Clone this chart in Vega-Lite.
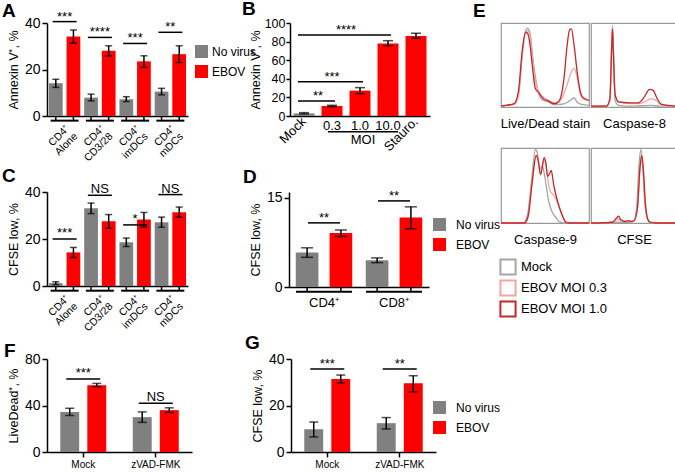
{
"$schema": "https://vega.github.io/schema/vega-lite/v6.json",
"padding": {"left": 2, "top": 0, "right": 0, "bottom": 0},
"background": "white",
"config": {
  "font": "Liberation Sans",
  "view": {"stroke": null},
  "axis": {"grid": false, "domainColor": "#000", "domainWidth": 1.5, "tickColor": "#000", "tickWidth": 1.5, "tickSize": 5, "labelColor": "#000", "titleColor": "#000", "labelFont": "Liberation Sans", "titleFont": "Liberation Sans", "labelFontSize": 14, "titleFontSize": 12.5, "titleFontWeight": "normal", "labelPadding": 2, "titlePadding": 4, "labelOverlap": false},
  "legend": {"labelFont": "Liberation Sans", "labelFontSize": 12, "labelColor": "#000", "padding": 0},
  "title": {"font": "Liberation Sans", "fontSize": 19, "fontWeight": "bold", "anchor": "start", "frame": "group", "color": "#000"},
  "text": {"font": "Liberation Sans", "fontSize": 13, "color": "#000"}
},
"datasets": {
  "A": [
    {"cond":"Alone","series":"No virus","v":14.1,"lo":12.3,"hi":15.8},
    {"cond":"Alone","series":"EBOV","v":34.2,"lo":31.4,"hi":37.0},
    {"cond":"CD3/28","series":"No virus","v":7.9,"lo":6.5,"hi":9.4},
    {"cond":"CD3/28","series":"EBOV","v":28.1,"lo":25.9,"hi":30.2},
    {"cond":"imDCs","series":"No virus","v":7.2,"lo":6.2,"hi":8.3},
    {"cond":"imDCs","series":"EBOV","v":23.5,"lo":20.9,"hi":25.9},
    {"cond":"mDCs","series":"No virus","v":10.5,"lo":9.1,"hi":11.9},
    {"cond":"mDCs","series":"EBOV","v":26.6,"lo":23.0,"hi":30.2}
  ],
  "Asig": [
    {"cond":"Alone","sy":40.6,"s":"***"},
    {"cond":"CD3/28","sy":33.8,"s":"****"},
    {"cond":"imDCs","sy":31.2,"s":"***"},
    {"cond":"mDCs","sy":36.0,"s":"**"}
  ],
  "B": [
    {"cat":"Mock","series":"No virus","v":2.8,"lo":2.2,"hi":3.6},
    {"cat":"0.3","series":"EBOV","v":10.8,"lo":10.1,"hi":11.5},
    {"cat":"1.0","series":"EBOV","v":27.3,"lo":24.0,"hi":30.5},
    {"cat":"10.0","series":"EBOV","v":78.0,"lo":75.5,"hi":81.0},
    {"cat":"Stauro.","series":"EBOV","v":86.0,"lo":83.5,"hi":89.0}
  ],
  "Bsig": [
    {"from":"Mock","to":"0.3","sy":16.2,"s":"**"},
    {"from":"Mock","to":"1.0","sy":36.7,"s":"***"},
    {"from":"Mock","to":"10.0","sy":87.0,"s":"****"}
  ],
  "Bmoi": [
    {"from":"0.3","to":"10.0","mid":"1.0","lab":"MOI"}
  ],
  "C": [
    {"cond":"Alone","series":"No virus","v":1.2,"lo":0.6,"hi":1.8},
    {"cond":"Alone","series":"EBOV","v":14.3,"lo":12.1,"hi":16.4},
    {"cond":"CD3/28","series":"No virus","v":33.1,"lo":30.8,"hi":35.3},
    {"cond":"CD3/28","series":"EBOV","v":27.6,"lo":24.6,"hi":30.4},
    {"cond":"imDCs","series":"No virus","v":18.6,"lo":16.8,"hi":20.4},
    {"cond":"imDCs","series":"EBOV","v":28.3,"lo":25.1,"hi":31.3},
    {"cond":"mDCs","series":"No virus","v":27.1,"lo":25.0,"hi":29.3},
    {"cond":"mDCs","series":"EBOV","v":31.4,"lo":29.3,"hi":33.6}
  ],
  "Csig": [
    {"cond":"Alone","sy":20.0,"s":"***"},
    {"cond":"CD3/28","sy":38.6,"s":"NS"},
    {"cond":"imDCs","sy":26.0,"s":"*"},
    {"cond":"mDCs","sy":38.9,"s":"NS"}
  ],
  "D": [
    {"cell":"CD4⁺","series":"No virus","v":5.8,"lo":5.0,"hi":6.6},
    {"cell":"CD4⁺","series":"EBOV","v":9.1,"lo":8.5,"hi":9.6},
    {"cell":"CD8⁺","series":"No virus","v":4.5,"lo":4.1,"hi":4.9},
    {"cell":"CD8⁺","series":"EBOV","v":11.7,"lo":9.8,"hi":13.5}
  ],
  "Dsig": [
    {"cell":"CD4⁺","sy":10.8,"s":"**"},
    {"cell":"CD8⁺","sy":14.5,"s":"**"}
  ],
  "F": [
    {"trt":"Mock","series":"No virus","v":34.5,"lo":31.4,"hi":37.6},
    {"trt":"Mock","series":"EBOV","v":57.5,"lo":56.2,"hi":59.0},
    {"trt":"zVAD-FMK","series":"No virus","v":30.0,"lo":25.5,"hi":34.5},
    {"trt":"zVAD-FMK","series":"EBOV","v":36.0,"lo":34.0,"hi":38.0}
  ],
  "Fsig": [
    {"trt":"Mock","sy":62.9,"s":"***"},
    {"trt":"zVAD-FMK","sy":42.0,"s":"NS"}
  ],
  "G": [
    {"trt":"Mock","series":"No virus","v":9.8,"lo":6.5,"hi":12.9},
    {"trt":"Mock","series":"EBOV","v":31.4,"lo":29.7,"hi":33.1},
    {"trt":"zVAD-FMK","series":"No virus","v":12.4,"lo":9.9,"hi":14.8},
    {"trt":"zVAD-FMK","series":"EBOV","v":29.6,"lo":25.9,"hi":32.8}
  ],
  "Gsig": [
    {"trt":"Mock","sy":35.7,"s":"***"},
    {"trt":"zVAD-FMK","sy":35.7,"s":"**"}
  ],
  "E1": [
    {"c":"Mock","x":0,"y":0.01},{"c":"Mock","x":6,"y":0.02},{"c":"Mock","x":15,"y":0.03},{"c":"Mock","x":20,"y":0.15},{"c":"Mock","x":24,"y":0.6},{"c":"Mock","x":27,"y":0.86},{"c":"Mock","x":30,"y":0.94},{"c":"Mock","x":33,"y":0.88},{"c":"Mock","x":36,"y":0.6},{"c":"Mock","x":40,"y":0.3},{"c":"Mock","x":44,"y":0.12},{"c":"Mock","x":48,"y":0.08},{"c":"Mock","x":54,"y":0.06},{"c":"Mock","x":60,"y":0.03},{"c":"Mock","x":66,"y":0.03},{"c":"Mock","x":72,"y":0.04},{"c":"Mock","x":76,"y":0.06},{"c":"Mock","x":80,"y":0.09},{"c":"Mock","x":83,"y":0.11},{"c":"Mock","x":87,"y":0.05},{"c":"Mock","x":92,"y":0.03},{"c":"Mock","x":100,"y":0.02},
    {"c":"EBOV MOI 0.3","x":0,"y":0.01},{"c":"EBOV MOI 0.3","x":6,"y":0.02},{"c":"EBOV MOI 0.3","x":15,"y":0.03},{"c":"EBOV MOI 0.3","x":20,"y":0.16},{"c":"EBOV MOI 0.3","x":24,"y":0.62},{"c":"EBOV MOI 0.3","x":27,"y":0.86},{"c":"EBOV MOI 0.3","x":30,"y":0.91},{"c":"EBOV MOI 0.3","x":33,"y":0.84},{"c":"EBOV MOI 0.3","x":36,"y":0.55},{"c":"EBOV MOI 0.3","x":40,"y":0.26},{"c":"EBOV MOI 0.3","x":44,"y":0.16},{"c":"EBOV MOI 0.3","x":48,"y":0.12},{"c":"EBOV MOI 0.3","x":54,"y":0.08},{"c":"EBOV MOI 0.3","x":60,"y":0.05},{"c":"EBOV MOI 0.3","x":66,"y":0.06},{"c":"EBOV MOI 0.3","x":70,"y":0.12},{"c":"EBOV MOI 0.3","x":75,"y":0.26},{"c":"EBOV MOI 0.3","x":80,"y":0.42},{"c":"EBOV MOI 0.3","x":83,"y":0.46},{"c":"EBOV MOI 0.3","x":86,"y":0.38},{"c":"EBOV MOI 0.3","x":90,"y":0.16},{"c":"EBOV MOI 0.3","x":94,"y":0.09},{"c":"EBOV MOI 0.3","x":100,"y":0.08},
    {"c":"EBOV MOI 1.0","x":0,"y":0.01},{"c":"EBOV MOI 1.0","x":6,"y":0.02},{"c":"EBOV MOI 1.0","x":15,"y":0.04},{"c":"EBOV MOI 1.0","x":20,"y":0.2},{"c":"EBOV MOI 1.0","x":24,"y":0.66},{"c":"EBOV MOI 1.0","x":28,"y":0.89},{"c":"EBOV MOI 1.0","x":30,"y":0.88},{"c":"EBOV MOI 1.0","x":33,"y":0.74},{"c":"EBOV MOI 1.0","x":36,"y":0.45},{"c":"EBOV MOI 1.0","x":39,"y":0.22},{"c":"EBOV MOI 1.0","x":43,"y":0.17},{"c":"EBOV MOI 1.0","x":48,"y":0.1},{"c":"EBOV MOI 1.0","x":54,"y":0.07},{"c":"EBOV MOI 1.0","x":60,"y":0.04},{"c":"EBOV MOI 1.0","x":64,"y":0.05},{"c":"EBOV MOI 1.0","x":68,"y":0.12},{"c":"EBOV MOI 1.0","x":72,"y":0.38},{"c":"EBOV MOI 1.0","x":75,"y":0.72},{"c":"EBOV MOI 1.0","x":78,"y":0.92},{"c":"EBOV MOI 1.0","x":80,"y":0.93},{"c":"EBOV MOI 1.0","x":83,"y":0.74},{"c":"EBOV MOI 1.0","x":87,"y":0.38},{"c":"EBOV MOI 1.0","x":91,"y":0.15},{"c":"EBOV MOI 1.0","x":95,"y":0.1},{"c":"EBOV MOI 1.0","x":100,"y":0.08}
  ],
  "E2": [
    {"c":"Mock","x":0,"y":0.01},{"c":"Mock","x":18,"y":0.01},{"c":"Mock","x":22,"y":0.08},{"c":"Mock","x":24,"y":0.7},{"c":"Mock","x":25,"y":0.97},{"c":"Mock","x":26,"y":0.7},{"c":"Mock","x":28,"y":0.08},{"c":"Mock","x":32,"y":0.02},{"c":"Mock","x":50,"y":0.01},{"c":"Mock","x":70,"y":0.02},{"c":"Mock","x":80,"y":0.01},{"c":"Mock","x":100,"y":0.01},
    {"c":"EBOV MOI 0.3","x":0,"y":0.01},{"c":"EBOV MOI 0.3","x":18,"y":0.01},{"c":"EBOV MOI 0.3","x":22,"y":0.1},{"c":"EBOV MOI 0.3","x":24,"y":0.7},{"c":"EBOV MOI 0.3","x":25,"y":0.95},{"c":"EBOV MOI 0.3","x":26,"y":0.7},{"c":"EBOV MOI 0.3","x":28,"y":0.15},{"c":"EBOV MOI 0.3","x":32,"y":0.06},{"c":"EBOV MOI 0.3","x":45,"y":0.04},{"c":"EBOV MOI 0.3","x":55,"y":0.04},{"c":"EBOV MOI 0.3","x":62,"y":0.06},{"c":"EBOV MOI 0.3","x":70,"y":0.1},{"c":"EBOV MOI 0.3","x":75,"y":0.08},{"c":"EBOV MOI 0.3","x":82,"y":0.03},{"c":"EBOV MOI 0.3","x":100,"y":0.01},
    {"c":"EBOV MOI 1.0","x":0,"y":0.01},{"c":"EBOV MOI 1.0","x":18,"y":0.01},{"c":"EBOV MOI 1.0","x":22,"y":0.1},{"c":"EBOV MOI 1.0","x":24,"y":0.7},{"c":"EBOV MOI 1.0","x":25,"y":0.93},{"c":"EBOV MOI 1.0","x":26,"y":0.65},{"c":"EBOV MOI 1.0","x":28,"y":0.15},{"c":"EBOV MOI 1.0","x":32,"y":0.06},{"c":"EBOV MOI 1.0","x":45,"y":0.05},{"c":"EBOV MOI 1.0","x":55,"y":0.05},{"c":"EBOV MOI 1.0","x":62,"y":0.12},{"c":"EBOV MOI 1.0","x":68,"y":0.21},{"c":"EBOV MOI 1.0","x":72,"y":0.2},{"c":"EBOV MOI 1.0","x":77,"y":0.1},{"c":"EBOV MOI 1.0","x":82,"y":0.03},{"c":"EBOV MOI 1.0","x":100,"y":0.01}
  ],
  "E3": [
    {"c":"Mock","x":0,"y":0},{"c":"Mock","x":25,"y":0},{"c":"Mock","x":30,"y":0.1},{"c":"Mock","x":35,"y":0.6},{"c":"Mock","x":39,"y":0.98},{"c":"Mock","x":41,"y":0.95},{"c":"Mock","x":44,"y":0.72},{"c":"Mock","x":47,"y":0.76},{"c":"Mock","x":50,"y":0.6},{"c":"Mock","x":54,"y":0.3},{"c":"Mock","x":58,"y":0.15},{"c":"Mock","x":62,"y":0.08},{"c":"Mock","x":66,"y":0.02},{"c":"Mock","x":72,"y":0},{"c":"Mock","x":100,"y":0},
    {"c":"EBOV MOI 0.3","x":0,"y":0},{"c":"EBOV MOI 0.3","x":27,"y":0},{"c":"EBOV MOI 0.3","x":31,"y":0.1},{"c":"EBOV MOI 0.3","x":35,"y":0.5},{"c":"EBOV MOI 0.3","x":40,"y":0.9},{"c":"EBOV MOI 0.3","x":42,"y":0.85},{"c":"EBOV MOI 0.3","x":45,"y":0.64},{"c":"EBOV MOI 0.3","x":49,"y":0.85},{"c":"EBOV MOI 0.3","x":51,"y":0.78},{"c":"EBOV MOI 0.3","x":53,"y":0.6},{"c":"EBOV MOI 0.3","x":56,"y":0.42},{"c":"EBOV MOI 0.3","x":60,"y":0.37},{"c":"EBOV MOI 0.3","x":64,"y":0.28},{"c":"EBOV MOI 0.3","x":69,"y":0.12},{"c":"EBOV MOI 0.3","x":73,"y":0.02},{"c":"EBOV MOI 0.3","x":76,"y":0},{"c":"EBOV MOI 0.3","x":100,"y":0},
    {"c":"EBOV MOI 1.0","x":0,"y":0},{"c":"EBOV MOI 1.0","x":27,"y":0},{"c":"EBOV MOI 1.0","x":31,"y":0.1},{"c":"EBOV MOI 1.0","x":35,"y":0.5},{"c":"EBOV MOI 1.0","x":40,"y":0.9},{"c":"EBOV MOI 1.0","x":42,"y":0.85},{"c":"EBOV MOI 1.0","x":45,"y":0.65},{"c":"EBOV MOI 1.0","x":49,"y":0.87},{"c":"EBOV MOI 1.0","x":51,"y":0.8},{"c":"EBOV MOI 1.0","x":53,"y":0.62},{"c":"EBOV MOI 1.0","x":56,"y":0.68},{"c":"EBOV MOI 1.0","x":57,"y":0.7},{"c":"EBOV MOI 1.0","x":60,"y":0.5},{"c":"EBOV MOI 1.0","x":64,"y":0.3},{"c":"EBOV MOI 1.0","x":69,"y":0.12},{"c":"EBOV MOI 1.0","x":73,"y":0.02},{"c":"EBOV MOI 1.0","x":76,"y":0},{"c":"EBOV MOI 1.0","x":100,"y":0}
  ],
  "E4": [
    {"c":"Mock","x":0,"y":0},{"c":"Mock","x":10,"y":0},{"c":"Mock","x":30,"y":0.01},{"c":"Mock","x":45,"y":0.01},{"c":"Mock","x":50,"y":0.03},{"c":"Mock","x":53,"y":0.2},{"c":"Mock","x":56,"y":0.8},{"c":"Mock","x":58,"y":0.98},{"c":"Mock","x":60,"y":0.8},{"c":"Mock","x":62,"y":0.35},{"c":"Mock","x":65,"y":0.08},{"c":"Mock","x":68,"y":0.01},{"c":"Mock","x":75,"y":0},{"c":"Mock","x":100,"y":0},
    {"c":"EBOV MOI 0.3","x":0,"y":0},{"c":"EBOV MOI 0.3","x":10,"y":0},{"c":"EBOV MOI 0.3","x":25,"y":0.01},{"c":"EBOV MOI 0.3","x":30,"y":0.04},{"c":"EBOV MOI 0.3","x":32,"y":0.05},{"c":"EBOV MOI 0.3","x":35,"y":0.03},{"c":"EBOV MOI 0.3","x":44,"y":0.02},{"c":"EBOV MOI 0.3","x":50,"y":0.03},{"c":"EBOV MOI 0.3","x":54,"y":0.2},{"c":"EBOV MOI 0.3","x":57,"y":0.7},{"c":"EBOV MOI 0.3","x":59,"y":0.85},{"c":"EBOV MOI 0.3","x":61,"y":0.65},{"c":"EBOV MOI 0.3","x":63,"y":0.28},{"c":"EBOV MOI 0.3","x":66,"y":0.05},{"c":"EBOV MOI 0.3","x":69,"y":0.01},{"c":"EBOV MOI 0.3","x":100,"y":0},
    {"c":"EBOV MOI 1.0","x":0,"y":0},{"c":"EBOV MOI 1.0","x":10,"y":0},{"c":"EBOV MOI 1.0","x":25,"y":0.01},{"c":"EBOV MOI 1.0","x":30,"y":0.07},{"c":"EBOV MOI 1.0","x":32,"y":0.09},{"c":"EBOV MOI 1.0","x":35,"y":0.04},{"c":"EBOV MOI 1.0","x":40,"y":0.02},{"c":"EBOV MOI 1.0","x":44,"y":0.03},{"c":"EBOV MOI 1.0","x":47,"y":0.02},{"c":"EBOV MOI 1.0","x":50,"y":0.03},{"c":"EBOV MOI 1.0","x":54,"y":0.2},{"c":"EBOV MOI 1.0","x":57,"y":0.75},{"c":"EBOV MOI 1.0","x":59,"y":0.9},{"c":"EBOV MOI 1.0","x":61,"y":0.7},{"c":"EBOV MOI 1.0","x":63,"y":0.3},{"c":"EBOV MOI 1.0","x":66,"y":0.05},{"c":"EBOV MOI 1.0","x":69,"y":0.01},{"c":"EBOV MOI 1.0","x":75,"y":0},{"c":"EBOV MOI 1.0","x":100,"y":0}
  ]
},
"resolve": {"scale": {"color": "independent", "xOffset": "independent"}, "legend": {"color": "independent"}},
"spacing": -29,
"hconcat": [
 {
  "resolve": {"scale": {"color": "independent", "xOffset": "independent"}, "legend": {"color": "independent"}},
  "spacing": 0,
  "vconcat": [
  {
  "resolve": {"scale": {"color": "independent", "xOffset": "independent"}, "legend": {"color": "independent"}},
  "spacing": 2,
  "vconcat": [
   {
    "resolve": {"scale": {"color": "independent", "xOffset": "independent"}, "legend": {"color": "independent"}},
    "spacing": -15,
    "hconcat": [
     {
      "width": 141, "height": 93,
      "title": {"text": "A", "dx": -45, "offset": -10},
      "layer": [
       {"data": {"name": "A"}, "mark": {"type": "bar"}, "encoding": {
         "x": {"field": "cond", "type": "nominal", "scale": {"domain": ["Alone","CD3/28","imDCs","mDCs"], "paddingInner": 0, "paddingOuter": 0}, "axis": {"title": null, "ticks": false, "labelAngle": 315, "labelAlign": "right", "labelBaseline": "top", "labelPadding": 7, "labelFontSize": 10.5, "labelLineHeight": 11, "labelExpr": "['CD4⁺', datum.label]", "encoding": {"labels": {"angle": {"value": -45}}}}},
         "xOffset": {"field": "series", "type": "nominal", "scale": {"domain": ["No virus","EBOV"], "paddingInner": 0.22, "paddingOuter": 0.11}},
         "y": {"field": "v", "type": "quantitative", "scale": {"domain": [0, 40]}, "axis": {"title": "Annexin V⁺, %", "values": [0,10,20,30,40]}},
         "color": {"field": "series", "type": "nominal", "scale": {"domain": ["No virus","EBOV"], "range": ["#808080","#ff0000"]}, "legend": {"title": null, "orient": "none", "legendX": 148, "legendY": 22, "symbolType": "square", "symbolSize": 169, "symbolStrokeWidth": 0, "rowPadding": 7, "labelOffset": 4, "labelFontSize": 12}}
       }},
       {"data": {"name": "A"}, "mark": {"type": "rule", "color": "#000", "strokeWidth": 1.5}, "encoding": {
         "x": {"field": "cond", "type": "nominal"}, "xOffset": {"field": "series", "type": "nominal"},
         "y": {"field": "lo", "type": "quantitative"}, "y2": {"field": "hi"}}},
       {"data": {"name": "A"}, "mark": {"type": "tick", "color": "#000", "thickness": 1.5, "size": 7}, "encoding": {
         "x": {"field": "cond", "type": "nominal"}, "xOffset": {"field": "series", "type": "nominal"},
         "y": {"field": "hi", "type": "quantitative"}}},
       {"data": {"name": "A"}, "mark": {"type": "tick", "color": "#000", "thickness": 1.5, "size": 7}, "encoding": {
         "x": {"field": "cond", "type": "nominal"}, "xOffset": {"field": "series", "type": "nominal"},
         "y": {"field": "lo", "type": "quantitative"}}},
       {"data": {"name": "A"}, "mark": {"type": "rule", "color": "#000", "strokeWidth": 1.5}, "encoding": {
         "x": {"field": "cond", "type": "nominal"}, "xOffset": {"field": "series", "type": "nominal"},
         "y": {"datum": 0}, "y2": {"datum": -2}}},
       {"data": {"name": "Asig"}, "mark": {"type": "rule", "color": "#000", "strokeWidth": 2, "xOffset": -14, "x2Offset": 14}, "encoding": {
         "x": {"field": "cond", "type": "nominal"}, "x2": {"field": "cond"}, "y": {"datum": -2}}},
       {"data": {"name": "Asig"}, "mark": {"type": "rule", "color": "#000", "strokeWidth": 1.5, "xOffset": -12, "x2Offset": 12}, "encoding": {
         "x": {"field": "cond", "type": "nominal"}, "x2": {"field": "cond"}, "y": {"field": "sy", "type": "quantitative"}}},
       {"data": {"name": "Asig"}, "mark": {"type": "text", "baseline": "alphabetic", "dy": -1, "fontSize": 13}, "encoding": {
         "x": {"field": "cond", "type": "nominal"}, "y": {"field": "sy", "type": "quantitative"}, "text": {"field": "s"}}}
      ]
     },
     {
      "width": 140, "height": 93,
      "title": {"text": "B", "dx": -48, "offset": -2},
      "layer": [
       {"data": {"name": "B"}, "mark": {"type": "bar"}, "encoding": {
         "x": {"field": "cat", "type": "nominal", "scale": {"domain": ["Mock","0.3","1.0","10.0","Stauro."], "paddingInner": 0.25, "paddingOuter": 0.125}, "axis": {"title": null, "ticks": false, "labelPadding": 3, "labelFontSize": 13, "labelAngle": 0,
           "labelAlign": {"condition": {"test": "datum.value === 'Mock' || datum.value === 'Stauro.'", "value": "right"}, "value": "center"},
           "labelBaseline": {"condition": {"test": "datum.value === 'Mock' || datum.value === 'Stauro.'", "value": "middle"}, "value": "top"},
           "encoding": {"labels": {"angle": {"condition": {"test": "datum.value === 'Mock' || datum.value === 'Stauro.'", "value": -45}, "value": 0}}}}},
         "y": {"field": "v", "type": "quantitative", "scale": {"domain": [0, 100]}, "axis": {"title": "Annexin V⁺, %", "tickCount": 5, "labelOverlap": false, "labelFontSize": 12.5, "tickSize": 4, "labelPadding": 1, "titlePadding": 2}},
         "color": {"field": "series", "type": "nominal", "scale": {"domain": ["No virus","EBOV"], "range": ["#808080","#ff0000"]}, "legend": null}
       }},
       {"data": {"name": "B"}, "mark": {"type": "rule", "color": "#000", "strokeWidth": 1.5}, "encoding": {
         "x": {"field": "cat", "type": "nominal"}, "y": {"field": "lo", "type": "quantitative"}, "y2": {"field": "hi"}}},
       {"data": {"name": "B"}, "mark": {"type": "tick", "color": "#000", "thickness": 1.5, "size": 10}, "encoding": {
         "x": {"field": "cat", "type": "nominal"}, "y": {"field": "hi", "type": "quantitative"}}},
       {"data": {"name": "B"}, "mark": {"type": "tick", "color": "#000", "thickness": 1.5, "size": 10}, "encoding": {
         "x": {"field": "cat", "type": "nominal"}, "y": {"field": "lo", "type": "quantitative"}}},
       {"data": {"name": "Bsig"}, "mark": {"type": "rule", "color": "#000", "strokeWidth": 1.5, "xOffset": -6, "x2Offset": 3}, "encoding": {
         "x": {"field": "from", "type": "nominal"}, "x2": {"field": "to"}, "y": {"field": "sy", "type": "quantitative"}}},
       {"data": {"name": "Bsig"}, "transform": [{"filter": "datum.s === '**'"}], "mark": {"type": "text", "baseline": "alphabetic", "dy": -1, "xOffset": 14}, "encoding": {
         "x": {"field": "from", "type": "nominal"}, "y": {"field": "sy", "type": "quantitative"}, "text": {"field": "s"}}},
       {"data": {"name": "Bsig"}, "transform": [{"filter": "datum.s === '***'"}], "mark": {"type": "text", "baseline": "alphabetic", "dy": -1, "xOffset": 28}, "encoding": {
         "x": {"field": "from", "type": "nominal"}, "y": {"field": "sy", "type": "quantitative"}, "text": {"field": "s"}}},
       {"data": {"name": "Bsig"}, "transform": [{"filter": "datum.s === '****'"}], "mark": {"type": "text", "baseline": "alphabetic", "dy": -1, "xOffset": 42}, "encoding": {
         "x": {"field": "from", "type": "nominal"}, "y": {"field": "sy", "type": "quantitative"}, "text": {"field": "s"}}},
       {"data": {"name": "Bmoi"}, "mark": {"type": "rule", "color": "#000", "strokeWidth": 1.5, "xOffset": -4, "x2Offset": 10}, "encoding": {
         "x": {"field": "from", "type": "nominal"}, "x2": {"field": "to"}, "y": {"datum": -17}}},
       {"data": {"name": "Bmoi"}, "mark": {"type": "text", "baseline": "top", "fontSize": 13, "dx": 3}, "encoding": {
         "x": {"field": "mid", "type": "nominal"}, "y": {"datum": -19}, "text": {"field": "lab"}}}
      ]
     }
    ]
   },
   {
    "resolve": {"scale": {"color": "independent", "xOffset": "independent"}, "legend": {"color": "independent"}},
    "spacing": 55,
    "hconcat": [
     {
      "width": 141, "height": 94,
      "title": {"text": "C", "dx": -45, "offset": -3},
      "layer": [
       {"data": {"name": "C"}, "mark": {"type": "bar"}, "encoding": {
         "x": {"field": "cond", "type": "nominal", "scale": {"domain": ["Alone","CD3/28","imDCs","mDCs"], "paddingInner": 0, "paddingOuter": 0}, "axis": {"title": null, "ticks": false, "labelAngle": 315, "labelAlign": "right", "labelBaseline": "top", "labelPadding": 7, "labelFontSize": 10.5, "labelLineHeight": 11, "labelExpr": "['CD4⁺', datum.label]", "encoding": {"labels": {"angle": {"value": -45}}}}},
         "xOffset": {"field": "series", "type": "nominal", "scale": {"domain": ["No virus","EBOV"], "paddingInner": 0.22, "paddingOuter": 0.11}},
         "y": {"field": "v", "type": "quantitative", "scale": {"domain": [0, 40]}, "axis": {"title": "CFSE low, %", "values": [0,10,20,30,40]}},
         "color": {"field": "series", "type": "nominal", "scale": {"domain": ["No virus","EBOV"], "range": ["#808080","#ff0000"]}, "legend": null}
       }},
       {"data": {"name": "C"}, "mark": {"type": "rule", "color": "#000", "strokeWidth": 1.5}, "encoding": {
         "x": {"field": "cond", "type": "nominal"}, "xOffset": {"field": "series", "type": "nominal"},
         "y": {"field": "lo", "type": "quantitative"}, "y2": {"field": "hi"}}},
       {"data": {"name": "C"}, "mark": {"type": "tick", "color": "#000", "thickness": 1.5, "size": 7}, "encoding": {
         "x": {"field": "cond", "type": "nominal"}, "xOffset": {"field": "series", "type": "nominal"},
         "y": {"field": "hi", "type": "quantitative"}}},
       {"data": {"name": "C"}, "mark": {"type": "tick", "color": "#000", "thickness": 1.5, "size": 7}, "encoding": {
         "x": {"field": "cond", "type": "nominal"}, "xOffset": {"field": "series", "type": "nominal"},
         "y": {"field": "lo", "type": "quantitative"}}},
       {"data": {"name": "C"}, "mark": {"type": "rule", "color": "#000", "strokeWidth": 1.5}, "encoding": {
         "x": {"field": "cond", "type": "nominal"}, "xOffset": {"field": "series", "type": "nominal"},
         "y": {"datum": 0}, "y2": {"datum": -2}}},
       {"data": {"name": "Csig"}, "mark": {"type": "rule", "color": "#000", "strokeWidth": 2, "xOffset": -14, "x2Offset": 14}, "encoding": {
         "x": {"field": "cond", "type": "nominal"}, "x2": {"field": "cond"}, "y": {"datum": -2}}},
       {"data": {"name": "Csig"}, "mark": {"type": "rule", "color": "#000", "strokeWidth": 1.5, "xOffset": -12, "x2Offset": 12}, "encoding": {
         "x": {"field": "cond", "type": "nominal"}, "x2": {"field": "cond"}, "y": {"field": "sy", "type": "quantitative"}}},
       {"data": {"name": "Csig"}, "mark": {"type": "text", "baseline": "alphabetic", "dy": -2, "fontSize": 13}, "encoding": {
         "x": {"field": "cond", "type": "nominal"}, "y": {"field": "sy", "type": "quantitative"}, "text": {"field": "s"}}}
      ]
     },
     {
      "width": 140, "height": 95,
      "title": {"text": "D", "dx": -46, "offset": 3},
      "layer": [
       {"data": {"name": "D"}, "mark": {"type": "bar"}, "encoding": {
         "x": {"field": "cell", "type": "nominal", "scale": {"domain": ["CD4⁺","CD8⁺"], "paddingInner": 0, "paddingOuter": 0}, "axis": {"title": null, "ticks": false, "labelAngle": 0, "labelPadding": 9, "labelFontSize": 13}},
         "xOffset": {"field": "series", "type": "nominal", "scale": {"domain": ["No virus","EBOV"], "paddingInner": 0.33, "paddingOuter": 0.2}},
         "y": {"field": "v", "type": "quantitative", "scale": {"domain": [0, 15]}, "axis": {"title": "CFSE low, %", "values": [0,5,10,15]}},
         "color": {"field": "series", "type": "nominal", "scale": {"domain": ["No virus","EBOV"], "range": ["#808080","#ff0000"]}, "legend": {"title": null, "orient": "none", "legendX": 144, "legendY": 26, "symbolType": "square", "symbolSize": 169, "symbolStrokeWidth": 0, "rowPadding": 7, "labelOffset": 10, "labelFontSize": 12}}
       }},
       {"data": {"name": "D"}, "mark": {"type": "rule", "color": "#000", "strokeWidth": 1.5}, "encoding": {
         "x": {"field": "cell", "type": "nominal"}, "xOffset": {"field": "series", "type": "nominal"},
         "y": {"field": "lo", "type": "quantitative"}, "y2": {"field": "hi"}}},
       {"data": {"name": "D"}, "mark": {"type": "tick", "color": "#000", "thickness": 1.5, "size": 12}, "encoding": {
         "x": {"field": "cell", "type": "nominal"}, "xOffset": {"field": "series", "type": "nominal"},
         "y": {"field": "hi", "type": "quantitative"}}},
       {"data": {"name": "D"}, "mark": {"type": "tick", "color": "#000", "thickness": 1.5, "size": 12}, "encoding": {
         "x": {"field": "cell", "type": "nominal"}, "xOffset": {"field": "series", "type": "nominal"},
         "y": {"field": "lo", "type": "quantitative"}}},
       {"data": {"name": "D"}, "mark": {"type": "rule", "color": "#000", "strokeWidth": 1.5}, "encoding": {
         "x": {"field": "cell", "type": "nominal"}, "xOffset": {"field": "series", "type": "nominal"},
         "y": {"datum": 0}, "y2": {"datum": -0.8}}},
       {"data": {"name": "Dsig"}, "mark": {"type": "rule", "color": "#000", "strokeWidth": 2, "xOffset": -28, "x2Offset": 28}, "encoding": {
         "x": {"field": "cell", "type": "nominal"}, "x2": {"field": "cell"}, "y": {"datum": -0.8}}},
       {"data": {"name": "Dsig"}, "mark": {"type": "rule", "color": "#000", "strokeWidth": 1.5, "xOffset": -16, "x2Offset": 16}, "encoding": {
         "x": {"field": "cell", "type": "nominal"}, "x2": {"field": "cell"}, "y": {"field": "sy", "type": "quantitative"}}},
       {"data": {"name": "Dsig"}, "mark": {"type": "text", "baseline": "alphabetic", "dy": -1, "fontSize": 13}, "encoding": {
         "x": {"field": "cell", "type": "nominal"}, "y": {"field": "sy", "type": "quantitative"}, "text": {"field": "s"}}}
      ]
     }
    ]
   }
  ]
  },
   {
    "resolve": {"scale": {"color": "independent", "xOffset": "independent"}, "legend": {"color": "independent"}},
    "spacing": 53,
    "hconcat": [
     {
      "width": 145, "height": 93,
      "title": {"text": "F", "dx": -43, "offset": -9},
      "layer": [
       {"data": {"name": "F"}, "mark": {"type": "bar"}, "encoding": {
         "x": {"field": "trt", "type": "nominal", "scale": {"domain": ["Mock","zVAD-FMK"], "paddingInner": 0, "paddingOuter": 0}, "axis": {"title": null, "ticks": true, "labelAngle": 0, "labelPadding": 2, "labelFontSize": 10}},
         "xOffset": {"field": "series", "type": "nominal", "scale": {"domain": ["No virus","EBOV"], "paddingInner": 0.3, "paddingOuter": 0.49}},
         "y": {"field": "v", "type": "quantitative", "scale": {"domain": [0, 80]}, "axis": {"title": "LiveDead⁺, %", "values": [0,20,40,60,80]}},
         "color": {"field": "series", "type": "nominal", "scale": {"domain": ["No virus","EBOV"], "range": ["#808080","#ff0000"]}, "legend": null}
       }},
       {"data": {"name": "F"}, "mark": {"type": "rule", "color": "#000", "strokeWidth": 1.5}, "encoding": {
         "x": {"field": "trt", "type": "nominal"}, "xOffset": {"field": "series", "type": "nominal"},
         "y": {"field": "lo", "type": "quantitative"}, "y2": {"field": "hi"}}},
       {"data": {"name": "F"}, "mark": {"type": "tick", "color": "#000", "thickness": 1.5, "size": 9}, "encoding": {
         "x": {"field": "trt", "type": "nominal"}, "xOffset": {"field": "series", "type": "nominal"},
         "y": {"field": "hi", "type": "quantitative"}}},
       {"data": {"name": "F"}, "mark": {"type": "tick", "color": "#000", "thickness": 1.5, "size": 9}, "encoding": {
         "x": {"field": "trt", "type": "nominal"}, "xOffset": {"field": "series", "type": "nominal"},
         "y": {"field": "lo", "type": "quantitative"}}},
       {"data": {"name": "Fsig"}, "mark": {"type": "rule", "color": "#000", "strokeWidth": 1.5, "xOffset": -17, "x2Offset": 17}, "encoding": {
         "x": {"field": "trt", "type": "nominal"}, "x2": {"field": "trt"}, "y": {"field": "sy", "type": "quantitative"}}},
       {"data": {"name": "Fsig"}, "mark": {"type": "text", "baseline": "alphabetic", "dy": -2, "fontSize": 13}, "encoding": {
         "x": {"field": "trt", "type": "nominal"}, "y": {"field": "sy", "type": "quantitative"}, "text": {"field": "s"}}}
      ]
     },
     {
      "width": 145, "height": 93,
      "title": {"text": "G", "dx": -46, "offset": -1},
      "layer": [
       {"data": {"name": "G"}, "mark": {"type": "bar"}, "encoding": {
         "x": {"field": "trt", "type": "nominal", "scale": {"domain": ["Mock","zVAD-FMK"], "paddingInner": 0, "paddingOuter": 0}, "axis": {"title": null, "ticks": true, "labelAngle": 0, "labelPadding": 2, "labelFontSize": 10}},
         "xOffset": {"field": "series", "type": "nominal", "scale": {"domain": ["No virus","EBOV"], "paddingInner": 0.3, "paddingOuter": 0.49}},
         "y": {"field": "v", "type": "quantitative", "scale": {"domain": [0, 40]}, "axis": {"title": "CFSE low, %", "values": [0,10,20,30,40]}},
         "color": {"field": "series", "type": "nominal", "scale": {"domain": ["No virus","EBOV"], "range": ["#808080","#ff0000"]}, "legend": {"title": null, "orient": "none", "legendX": 142, "legendY": 42, "symbolType": "square", "symbolSize": 169, "symbolStrokeWidth": 0, "rowPadding": 7, "labelOffset": 10, "labelFontSize": 12}}
       }},
       {"data": {"name": "G"}, "mark": {"type": "rule", "color": "#000", "strokeWidth": 1.5}, "encoding": {
         "x": {"field": "trt", "type": "nominal"}, "xOffset": {"field": "series", "type": "nominal"},
         "y": {"field": "lo", "type": "quantitative"}, "y2": {"field": "hi"}}},
       {"data": {"name": "G"}, "mark": {"type": "tick", "color": "#000", "thickness": 1.5, "size": 9}, "encoding": {
         "x": {"field": "trt", "type": "nominal"}, "xOffset": {"field": "series", "type": "nominal"},
         "y": {"field": "hi", "type": "quantitative"}}},
       {"data": {"name": "G"}, "mark": {"type": "tick", "color": "#000", "thickness": 1.5, "size": 9}, "encoding": {
         "x": {"field": "trt", "type": "nominal"}, "xOffset": {"field": "series", "type": "nominal"},
         "y": {"field": "lo", "type": "quantitative"}}},
       {"data": {"name": "Gsig"}, "mark": {"type": "rule", "color": "#000", "strokeWidth": 1.5, "xOffset": -17, "x2Offset": 17}, "encoding": {
         "x": {"field": "trt", "type": "nominal"}, "x2": {"field": "trt"}, "y": {"field": "sy", "type": "quantitative"}}},
       {"data": {"name": "Gsig"}, "mark": {"type": "text", "baseline": "alphabetic", "dy": -1, "fontSize": 13}, "encoding": {
         "x": {"field": "trt", "type": "nominal"}, "y": {"field": "sy", "type": "quantitative"}, "text": {"field": "s"}}}
      ]
     }
    ]
   }
  ]
 },
 {
  "resolve": {"scale": {"color": "independent"}, "legend": {"color": "independent"}},
  "spacing": 15,
  "vconcat": [
   {
    "resolve": {"scale": {"color": "independent"}, "legend": {"color": "independent"}},
    "bounds": "flush",
    "spacing": 2,
    "hconcat": [
     {
      "width": 88, "height": 84,
      "view": {"stroke": "#999999", "strokeWidth": 1.2},
      "title": {"text": "E", "dx": -28, "offset": 2},
      "layer": [
       {"data": {"name": "E1"}, "mark": {"type": "line", "interpolate": "monotone", "strokeWidth": 1.3}, "encoding": {
         "x": {"field": "x", "type": "quantitative", "scale": {"domain": [0, 100]}, "axis": {"title": "Live/Dead stain", "domain": false, "ticks": false, "labels": false, "titlePadding": 10, "titleFontSize": 13}},
         "y": {"field": "y", "type": "quantitative", "scale": {"domain": [0, 1]}, "axis": null},
         "color": {"field": "c", "type": "nominal", "scale": {"domain": ["Mock","EBOV MOI 0.3","EBOV MOI 1.0"], "range": ["#a6a6a6","#f5a3a3","#c62828"]}, "legend": null}}},
       {"mark": {"type": "rule", "color": "#000", "strokeWidth": 1.5}, "encoding": {"x": {"datum": 0}, "x2": {"datum": 100}, "y": {"datum": 0}}},
       {"mark": {"type": "rule", "color": "#000", "strokeWidth": 1.2}, "encoding": {"x": {"datum": 8}, "x2": {"datum": 95}, "y": {"datum": -0.085}}},
       {"mark": {"type": "point", "shape": "triangle-right", "filled": true, "color": "#000", "opacity": 1, "size": 45}, "encoding": {"x": {"datum": 96}, "y": {"datum": -0.085}}}
      ]
     },
     {
      "width": 86, "height": 84,
      "view": {"stroke": "#999999", "strokeWidth": 1.2},
      "layer": [
       {"data": {"name": "E2"}, "mark": {"type": "line", "interpolate": "monotone", "strokeWidth": 1.3}, "encoding": {
         "x": {"field": "x", "type": "quantitative", "scale": {"domain": [0, 100]}, "axis": {"title": "Caspase-8", "domain": false, "ticks": false, "labels": false, "titlePadding": 10, "titleFontSize": 13}},
         "y": {"field": "y", "type": "quantitative", "scale": {"domain": [0, 1]}, "axis": null},
         "color": {"field": "c", "type": "nominal", "scale": {"domain": ["Mock","EBOV MOI 0.3","EBOV MOI 1.0"], "range": ["#a6a6a6","#f5a3a3","#c62828"]}, "legend": null}}},
       {"mark": {"type": "rule", "color": "#000", "strokeWidth": 1.5}, "encoding": {"x": {"datum": 0}, "x2": {"datum": 100}, "y": {"datum": 0}}},
       {"mark": {"type": "rule", "color": "#000", "strokeWidth": 1.2}, "encoding": {"x": {"datum": 8}, "x2": {"datum": 95}, "y": {"datum": -0.085}}},
       {"mark": {"type": "point", "shape": "triangle-right", "filled": true, "color": "#000", "opacity": 1, "size": 45}, "encoding": {"x": {"datum": 96}, "y": {"datum": -0.085}}}
      ]
     }
    ]
   },
   {
    "resolve": {"scale": {"color": "independent"}, "legend": {"color": "independent"}},
    "bounds": "flush",
    "spacing": 2,
    "hconcat": [
     {
      "width": 88, "height": 75,
      "view": {"stroke": "#999999", "strokeWidth": 1.2},
      "layer": [
       {"data": {"name": "E3"}, "mark": {"type": "line", "interpolate": "monotone", "strokeWidth": 1.3}, "encoding": {
         "x": {"field": "x", "type": "quantitative", "scale": {"domain": [0, 100]}, "axis": {"title": "Caspase-9", "domain": false, "ticks": false, "labels": false, "titlePadding": 10, "titleFontSize": 13}},
         "y": {"field": "y", "type": "quantitative", "scale": {"domain": [0, 1]}, "axis": null},
         "color": {"field": "c", "type": "nominal", "scale": {"domain": ["Mock","EBOV MOI 0.3","EBOV MOI 1.0"], "range": ["#a6a6a6","#f5a3a3","#c62828"]}, "legend": {"title": null, "orient": "none", "legendX": -2, "legendY": 110, "symbolType": "square", "symbolSize": 230, "symbolStrokeWidth": 2, "symbolFillColor": "white", "rowPadding": -5, "labelOffset": 4, "labelFontSize": 13}}}},
       {"mark": {"type": "rule", "color": "#000", "strokeWidth": 1.5}, "encoding": {"x": {"datum": 0}, "x2": {"datum": 100}, "y": {"datum": 0}}},
       {"mark": {"type": "rule", "color": "#000", "strokeWidth": 1.2}, "encoding": {"x": {"datum": 8}, "x2": {"datum": 95}, "y": {"datum": -0.095}}},
       {"mark": {"type": "point", "shape": "triangle-right", "filled": true, "color": "#000", "opacity": 1, "size": 45}, "encoding": {"x": {"datum": 96}, "y": {"datum": -0.095}}}
      ]
     },
     {
      "width": 86, "height": 75,
      "view": {"stroke": "#999999", "strokeWidth": 1.2},
      "layer": [
       {"data": {"name": "E4"}, "mark": {"type": "line", "interpolate": "monotone", "strokeWidth": 1.3}, "encoding": {
         "x": {"field": "x", "type": "quantitative", "scale": {"domain": [0, 100]}, "axis": {"title": "CFSE", "domain": false, "ticks": false, "labels": false, "titlePadding": 10, "titleFontSize": 13}},
         "y": {"field": "y", "type": "quantitative", "scale": {"domain": [0, 1]}, "axis": null},
         "color": {"field": "c", "type": "nominal", "scale": {"domain": ["Mock","EBOV MOI 0.3","EBOV MOI 1.0"], "range": ["#a6a6a6","#f5a3a3","#c62828"]}, "legend": null}}},
       {"mark": {"type": "rule", "color": "#000", "strokeWidth": 1.5}, "encoding": {"x": {"datum": 0}, "x2": {"datum": 100}, "y": {"datum": 0}}},
       {"mark": {"type": "rule", "color": "#000", "strokeWidth": 1.2}, "encoding": {"x": {"datum": 8}, "x2": {"datum": 95}, "y": {"datum": -0.095}}},
       {"mark": {"type": "point", "shape": "triangle-right", "filled": true, "color": "#000", "opacity": 1, "size": 45}, "encoding": {"x": {"datum": 96}, "y": {"datum": -0.095}}}
      ]
     }
    ]
   }
  ]
 }
]
}
